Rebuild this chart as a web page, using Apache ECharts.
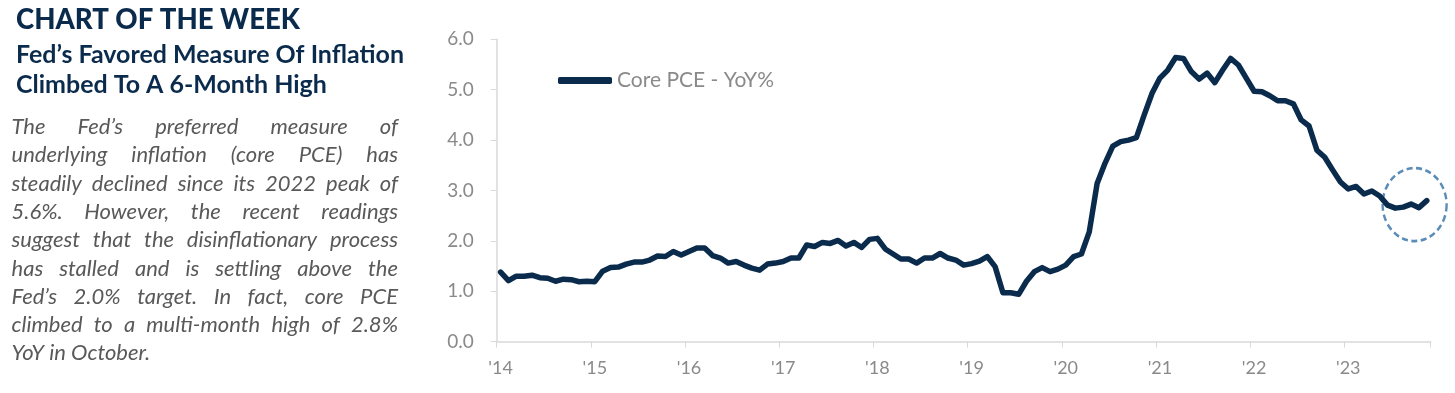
<!DOCTYPE html>
<html><head><meta charset="utf-8">
<script src="https://cdn.jsdelivr.net/npm/echarts@6/dist/echarts.min.js"></script>
<style>html,body{margin:0;padding:0;background:#fff}#c{width:1455px;height:393px}</style>
</head><body><div id="c"></div>
<script>
// ---- data ----
const yearLabels = ["'14","'15","'16","'17","'18","'19","'20","'21","'22","'23"];
const monthNames = ['Jan','Feb','Mar','Apr','May','Jun','Jul','Aug','Sep','Oct','Nov','Dec'];
const corePceYoY = [
  1.38,1.21,1.30,1.30,1.32,1.27,1.26,1.20,1.24,1.23,1.19,1.20,
  1.19,1.40,1.47,1.48,1.54,1.58,1.58,1.62,1.70,1.69,1.79,1.72,
  1.79,1.86,1.86,1.71,1.66,1.56,1.59,1.52,1.46,1.42,1.54,1.56,
  1.59,1.66,1.66,1.92,1.89,1.97,1.95,2.01,1.90,1.97,1.87,2.03,
  2.05,1.84,1.74,1.64,1.64,1.56,1.66,1.66,1.75,1.66,1.62,1.52,
  1.55,1.60,1.69,1.49,0.97,0.97,0.94,1.20,1.39,1.47,1.39,1.44,
  1.52,1.69,1.74,2.18,3.14,3.54,3.88,3.97,4.00,4.05,4.50,4.93,
  5.23,5.39,5.64,5.62,5.36,5.21,5.33,5.14,5.39,5.62,5.49,5.23,
  4.97,4.96,4.88,4.78,4.78,4.72,4.40,4.28,3.80,3.66,3.41,3.17,
  3.03,3.08,2.93,2.99,2.89,2.71,2.65,2.67,2.73,2.66,2.80
];
const seriesName = 'Core PCE - YoY%';
const yMin = 0, yMax = 6, yStep = 1;
const titleText = 'CHART OF THE WEEK';
const subtitleLines = ['Fed\u2019s Favored Measure Of Inflation', 'Climbed To A 6-Month High'];
const bodyLines = [
  'The Fed\u2019s preferred measure of',
  'underlying inflation (core PCE) has',
  'steadily declined since its 2022 peak of',
  '5.6%. However, the recent readings',
  'suggest that the disinflationary process',
  'has stalled and is settling above the',
  'Fed\u2019s 2.0% target. In fact, core PCE',
  'climbed to a multi-month high of 2.8%',
  'YoY in October.'
];
// annotation anchor (category index, value) for the dashed circle
const highlightCategory = 116, highlightValue = 2.72;

// ---- build ----
const categories = [];
for (let i = 0; i < corePceYoY.length; i++) {
  categories.push(monthNames[i % 12] + ' ' + yearLabels[Math.floor(i / 12)]);
}
const NAVY = '#0b2b4d', GRAY = '#8a8a8a', AXIS = '#d9d9d9';
const FONT = 'Lato, "Open Sans", sans-serif';

const ctx = document.createElement('canvas').getContext('2d');
function measure(t, font) { ctx.font = font; return ctx.measureText(t).width; }
function fitSize(text, weight, style, target) {
  const w = measure(text, style + ' ' + weight + ' 100px ' + FONT);
  return 100 * target / w;
}

const graphics = [];
// title
const titleSize = fitSize(titleText, '900', 'normal', 284);
graphics.push({type: 'text', x: 16, y: 20, style: {text: titleText, font: '900 ' + titleSize.toFixed(2) + 'px ' + FONT, fill: NAVY, textAlign: 'left', textVerticalAlign: 'middle', align: 'left', verticalAlign: 'middle'}});
const subSize = fitSize(subtitleLines[0], 'bold', 'normal', 388);
subtitleLines.forEach((t, k) => {
  graphics.push({type: 'text', x: 16, y: 55 + k * 30, style: {text: t, font: 'bold ' + subSize.toFixed(2) + 'px ' + FONT, fill: NAVY, textAlign: 'left', textVerticalAlign: 'middle', align: 'left', verticalAlign: 'middle'}});
});
// body (justified)
const bodyLeft = 11.5, bodyRight = 398, bodyW = bodyRight - bodyLeft, bodyTop = 127, bodyStep = 28.3;
let maxNat = 0;
bodyLines.slice(0, -1).forEach(l => { maxNat = Math.max(maxNat, measure(l, 'italic normal 100px ' + FONT)); });
const bodySize = Math.min(22, 100 * bodyW * 0.985 / maxNat);
const bodyFont = 'italic normal ' + bodySize.toFixed(2) + 'px ' + FONT;
bodyLines.forEach((line, k) => {
  const y = bodyTop + k * bodyStep;
  const words = line.split(' ');
  const last = k === bodyLines.length - 1;
  if (last) {
    graphics.push({type: 'text', x: bodyLeft, y: y, style: {text: line, font: bodyFont, fill: '#595959', textAlign: 'left', textVerticalAlign: 'middle', align: 'left', verticalAlign: 'middle'}});
    return;
  }
  const widths = words.map(w => measure(w, bodyFont));
  const sum = widths.reduce((a, b) => a + b, 0);
  const gap = (bodyW - sum) / (words.length - 1);
  let x = bodyLeft;
  words.forEach((w, j) => {
    graphics.push({type: 'text', x: x, y: y, style: {text: w, font: bodyFont, fill: '#595959', textAlign: 'left', textVerticalAlign: 'middle', align: 'left', verticalAlign: 'middle'}});
    x += widths[j] + gap;
  });
});

const chart = echarts.init(document.getElementById('c'), null, {renderer: 'canvas'});
const option = {
  animation: false,
  backgroundColor: '#fff',
  grid: {left: 496.7, right: 24.3, top: 39.3, bottom: 51.3, containLabel: false, outerBoundsMode: 'none'},
  legend: {
    show: true, left: 553, top: 65, itemWidth: 54, itemHeight: 7, icon: 'roundRect',
    textStyle: {color: GRAY, fontSize: 21, fontFamily: FONT},
    data: [seriesName]
  },
  xAxis: {
    type: 'category', data: categories, boundaryGap: true,
    axisLine: {lineStyle: {color: AXIS, width: 1.5}},
    axisTick: {show: true, length: 6, interval: (i) => i % 12 === 0, lineStyle: {color: AXIS, width: 1}},
    axisLabel: {interval: (i) => i % 12 === 0, formatter: (v, i) => yearLabels[Math.floor(i / 12)], color: GRAY, fontSize: 18, fontFamily: FONT, margin: 17},
    splitLine: {show: false}
  },
  yAxis: {
    type: 'value', min: yMin, max: yMax, interval: yStep,
    axisLine: {show: true, lineStyle: {color: AXIS, width: 1.5}},
    axisTick: {show: true, length: 6, lineStyle: {color: AXIS, width: 1}},
    axisLabel: {formatter: (v) => v.toFixed(1), color: GRAY, fontSize: 19, fontFamily: FONT, margin: 23},
    splitLine: {show: false}
  },
  series: [{
    name: seriesName, type: 'line', data: corePceYoY, showSymbol: false, symbol: 'none',
    lineStyle: {color: NAVY, width: 5.5, join: 'round', cap: 'round'},
    itemStyle: {color: NAVY}
  }],
  graphic: graphics
};
chart.setOption(option);
const p1 = chart.convertToPixel({xAxisIndex: 0, yAxisIndex: 0}, [highlightCategory, highlightValue]);
const p2 = chart.convertToPixel({xAxisIndex: 0, yAxisIndex: 0}, [highlightCategory + 1, highlightValue]);
const cx = p1[0] + 0.45 * (p2[0] - p1[0]);
chart.setOption({graphic: graphics.concat([{
  type: 'circle', x: cx, y: p1[1], scaleY: 1.14,
  shape: {cx: 0, cy: 0, r: 32},
  style: {fill: 'none', stroke: '#5b8cb8', lineWidth: 2.4, lineDash: [6, 3.5]}
}])});
</script></body></html>
